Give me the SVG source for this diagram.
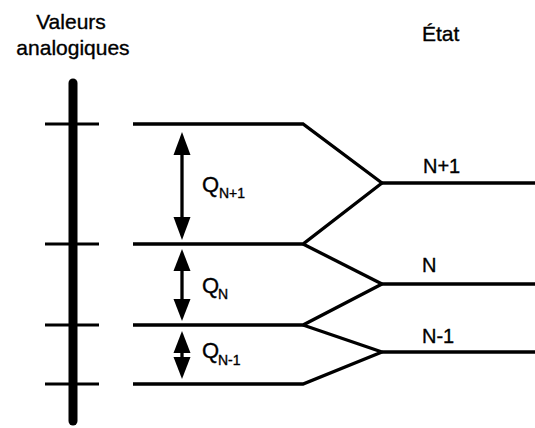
<svg xmlns="http://www.w3.org/2000/svg" width="535" height="428" viewBox="0 0 535 428">
<style>
  text { font-family: "Liberation Sans", Arial, sans-serif; fill: #000; stroke: #000; stroke-width: 0.35; }
  .hdr { font-size: 21px; }
  .q { font-size: 22px; }
  .sub { font-size: 14px; }
  .st { font-size: 20px; }
  .lvl { fill: none; stroke: #000; stroke-width: 3.3; stroke-linejoin: miter; }
  .tick { stroke: #000; stroke-width: 2.8; }
  .shaft { stroke: #000; stroke-width: 3.3; }
  .head { fill: #000; }
</style>
<rect width="535" height="428" fill="#fff"/>

<g id="header-analog">
  <text class="hdr" x="71" y="29" text-anchor="middle">Valeurs</text>
  <text class="hdr" x="73" y="55" text-anchor="middle">analogiques</text>
</g>
<g id="header-state">
  <text class="hdr" x="422" y="41">État</text>
</g>

<g id="axis">
  <line x1="73" y1="83" x2="73" y2="421" stroke="#000" stroke-width="9" stroke-linecap="round"/>
  <line class="tick" x1="45" y1="124" x2="99" y2="124"/>
  <line class="tick" x1="45" y1="244" x2="99" y2="244"/>
  <line class="tick" x1="45" y1="325" x2="99" y2="325"/>
  <line class="tick" x1="45" y1="384" x2="99" y2="384"/>
</g>

<g id="connectors">
  <polyline class="lvl" points="133,124 303,124 382,183"/>
  <polyline class="lvl" points="382,183 303,244 133,244"/>
  <polyline class="lvl" points="303,244 382,284"/>
  <polyline class="lvl" points="382,284 303,325 133,325"/>
  <polyline class="lvl" points="303,325 382,352"/>
  <polyline class="lvl" points="382,352 303,384 133,384"/>
  <line class="lvl" x1="382" y1="183" x2="535" y2="183"/>
  <line class="lvl" x1="382" y1="284" x2="535" y2="284"/>
  <line class="lvl" x1="382" y1="352" x2="535" y2="352"/>
</g>

<g id="q-n-plus-1">
  <line class="shaft" x1="182" y1="152" x2="182" y2="220"/>
  <polygon class="head" points="182,132 173.5,155 190.5,155"/>
  <polygon class="head" points="182,240 173.5,217 190.5,217"/>
  <text class="q" x="202" y="192">Q</text>
  <text class="sub" x="219" y="198">N+1</text>
</g>

<g id="q-n">
  <line class="shaft" x1="182" y1="268" x2="182" y2="302"/>
  <polygon class="head" points="182,249 173.5,271 190.5,271"/>
  <polygon class="head" points="182,321 173.5,299 190.5,299"/>
  <text class="q" x="202" y="293">Q</text>
  <text class="sub" x="218" y="299">N</text>
</g>

<g id="q-n-minus-1">
  <line class="shaft" x1="182" y1="350" x2="182" y2="360"/>
  <polygon class="head" points="182,331 173.5,353 190.5,353"/>
  <polygon class="head" points="182,379 173.5,357 190.5,357"/>
  <text class="q" x="202" y="358">Q</text>
  <text class="sub" x="218" y="365">N-1</text>
</g>

<g id="state-n-plus-1">
  <text class="st" x="423" y="173">N+1</text>
</g>
<g id="state-n">
  <text class="st" x="422" y="272">N</text>
</g>
<g id="state-n-minus-1">
  <text class="st" x="422" y="343">N-1</text>
</g>
</svg>
